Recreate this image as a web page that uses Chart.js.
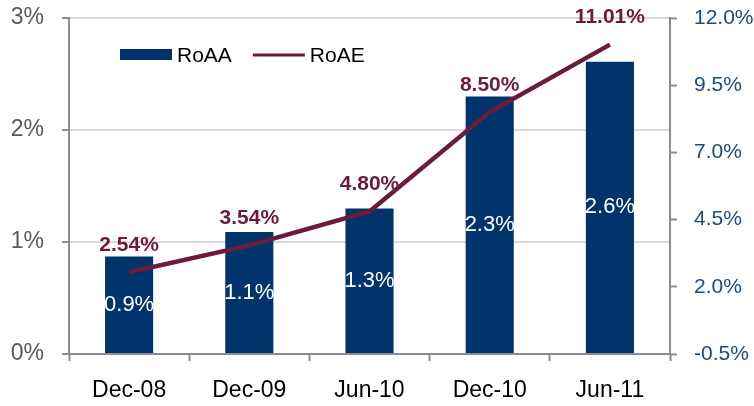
<!DOCTYPE html>
<html>
<head>
<meta charset="utf-8">
<script src="https://cdn.jsdelivr.net/npm/chart.js@4/dist/chart.umd.min.js"></script>
<style>
  html, body { margin: 0; padding: 0; background: #fff; }
  #wrap { width: 754px; height: 406px; }
</style>
</head>
<body>
<div id="wrap"><canvas id="grafico"></canvas></div>
<script>
// datos
const periodos = ['Dec-08', 'Dec-09', 'Jun-10', 'Dec-10', 'Jun-11'];
const roaa = [0.87, 1.09, 1.30, 2.30, 2.61];
const roaaEtiquetas = ['0.9%', '1.1%', '1.3%', '2.3%', '2.6%'];
const roae = [2.54, 3.54, 4.80, 8.50, 11.01];
const roaeEtiquetas = ['2.54%', '3.54%', '4.80%', '8.50%', '11.01%'];
const ticksIzq = [0, 1, 2, 3];
const ticksDer = [-0.5, 2.0, 4.5, 7.0, 9.5, 12.0];

const azul = '#00346A';
const granate = '#6C1A3D';
const gris = '#8C8C8C';
const fuente = "'Liberation Sans', Arial, sans-serif";

// etiquetas de datos (barras en blanco, linea en granate)
const etiquetasPlugin = {
  id: 'etiquetas',
  afterDatasetDraw(chart, args) {
    if (args.index !== 0) return;
    const ctx = chart.ctx;
    ctx.save();
    ctx.textAlign = 'center';
    ctx.textBaseline = 'middle';
    ctx.font = '22px ' + fuente;
    ctx.fillStyle = '#ffffff';
    chart.getDatasetMeta(0).data.forEach((bar, i) => {
      ctx.fillText(roaaEtiquetas[i], bar.x, (bar.y + bar.base) / 2);
    });
    ctx.font = 'bold 21px ' + fuente;
    ctx.fillStyle = granate;
    chart.getDatasetMeta(1).data.forEach((pt, i) => {
      ctx.fillText(roaeEtiquetas[i], pt.x, pt.y - 27);
    });
    ctx.restore();
  }
};

// leyenda dentro del area del grafico
const leyendaPlugin = {
  id: 'leyenda',
  afterDraw(chart) {
    const ctx = chart.ctx;
    const y = 55;
    let x = chart.chartArea.left + 51;
    ctx.save();
    ctx.font = '21px ' + fuente;
    ctx.textBaseline = 'middle';
    ctx.textAlign = 'left';
    chart.data.datasets.forEach(ds => {
      if (ds.type === 'bar') {
        ctx.fillStyle = ds.backgroundColor;
        ctx.fillRect(x, y - 6, 52, 11);
      } else {
        ctx.strokeStyle = ds.borderColor;
        ctx.lineWidth = 3;
        ctx.beginPath();
        ctx.moveTo(x, y);
        ctx.lineTo(x + 52, y);
        ctx.stroke();
      }
      ctx.fillStyle = '#000';
      ctx.fillText(ds.label, x + 57, y + 1);
      x += 57 + ctx.measureText(ds.label).width + 21;
    });
    ctx.restore();
  }
};

new Chart(document.getElementById('grafico').getContext('2d'), {
  data: {
    labels: periodos,
    datasets: [
      {
        type: 'bar',
        label: 'RoAA',
        data: roaa,
        backgroundColor: azul,
        borderWidth: 0,
        barPercentage: 0.4,
        categoryPercentage: 1,
        yAxisID: 'y',
        order: 1
      },
      {
        type: 'line',
        label: 'RoAE',
        data: roae,
        borderColor: granate,
        backgroundColor: granate,
        borderWidth: 4.5,
        pointRadius: 0,
        tension: 0,
        yAxisID: 'y1',
        order: 0
      }
    ]
  },
  options: {
    responsive: true,
    maintainAspectRatio: false,
    animation: false,
    layout: { padding: 0 },
    plugins: {
      legend: { display: false },
      tooltip: { enabled: false }
    },
    scales: {
      x: {
        afterFit: s => { s.height = 52; s.paddingLeft = 0; s.paddingRight = 0; },
        grid: {
          display: true,
          offset: true,
          drawOnChartArea: false,
          drawTicks: true,
          tickLength: 7,
          tickColor: gris,
          tickWidth: 2
        },
        border: { color: gris, width: 2 },
        ticks: {
          color: '#000',
          font: { family: fuente, size: 23 },
          padding: 16,
          maxRotation: 0
        }
      },
      y: {
        position: 'left',
        min: 0,
        max: 3,
        afterBuildTicks: s => { s.ticks = ticksIzq.map(v => ({ value: v })); },
        afterFit: s => { s.width = 69; s.paddingTop = 18; s.paddingBottom = 0; },
        grid: {
          color: ctx => ctx.tick && ctx.tick.value === 0 ? 'rgba(0,0,0,0)' : '#D9D9D9',
          lineWidth: 2,
          tickLength: 7,
          tickColor: gris,
          tickWidth: 2
        },
        border: { color: gris, width: 2 },
        ticks: {
          color: '#595959',
          font: { family: fuente, size: 23 },
          padding: 18,
          callback: v => v + '%'
        }
      },
      y1: {
        position: 'right',
        min: -0.5,
        max: 12,
        afterBuildTicks: s => { s.ticks = ticksDer.map(v => ({ value: v })); },
        afterFit: s => { s.width = 84; s.paddingTop = 18; s.paddingBottom = 0; },
        grid: {
          drawOnChartArea: false,
          tickLength: 7,
          tickColor: gris,
          tickWidth: 2
        },
        border: { color: gris, width: 2 },
        ticks: {
          color: '#1B4B7E',
          font: { family: fuente, size: 21 },
          padding: 17,
          callback: v => v.toFixed(1) + '%'
        }
      }
    }
  },
  plugins: [etiquetasPlugin, leyendaPlugin]
});
</script>
</body>
</html>
